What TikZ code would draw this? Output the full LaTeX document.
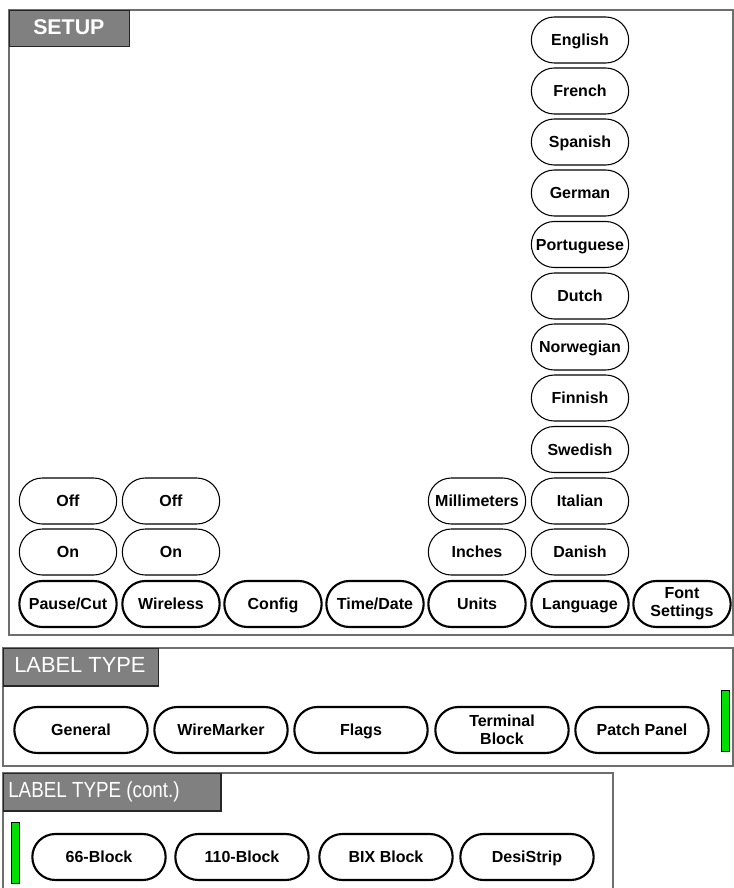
\documentclass[tikz,border=0pt]{standalone}
\usepackage{fontspec}
\setmainfont{Liberation Sans}
\usetikzlibrary{shapes.misc}
\definecolor{tabgray}{HTML}{808080}
\definecolor{framegray}{HTML}{6E6E6E}
\definecolor{barGreen}{HTML}{00E000}
\tikzset{
  btn/.style={rounded rectangle, draw=black, line width=0.8pt, fill=white,
    minimum width=75pt, minimum height=34.5pt, inner sep=1pt,
    text height=8.6pt, text depth=0pt,
    font=\fontsize{12}{12}\selectfont\bfseries, align=center},
  mainbtn/.style={btn, line width=1.6pt},
  twoline/.style={text height=, text depth=, font=\fontsize{12}{13.5}\selectfont\bfseries},
  ltbtn/.style={btn, line width=1.6pt, minimum width=102pt},
  tabbox/.style={draw=black!85, line width=0.9pt, fill=tabgray, inner sep=0pt, anchor=north west},
  tabtext/.style={text=white, inner sep=0pt, anchor=base west},
  panel/.style={draw=framegray, line width=1.2pt},
  greenbar/.style={draw=black, line width=0.6pt, fill=barGreen, minimum width=6pt, minimum height=46pt, inner sep=0pt}
}
\begin{document}
\begin{tikzpicture}[x=0.75pt,y=-0.75pt]
\useasboundingbox (0,0) rectangle (734,888);
\clip (0,0) rectangle (734,888);
% SETUP panel
\draw[panel] (9,10) rectangle (733,635);
\node[tabbox, minimum width=90pt, minimum height=27pt] (setuptab) at (9,10) {};
\node[tabtext, font=\fontsize{16}{16}\selectfont\bfseries] (setuptxt) at (33,35) {SETUP};
% bottom row
\node[mainbtn] (pause) at (68,604) {Pause/Cut};
\node[mainbtn] (wireless) at (171,604) {Wireless};
\node[mainbtn] (config) at (273,604) {Config};
\node[mainbtn] (timedate) at (375,604) {Time/Date};
\node[mainbtn] (units) at (477,604) {Units};
\node[mainbtn] (language) at (580,604) {Language};
\node[mainbtn, twoline] (font) at (682,604) {Font\\Settings};
% sub buttons
\node[btn] (pauseon) at (68,552) {On};
\node[btn] (pauseoff) at (68,501) {Off};
\node[btn] (wirelesson) at (171,552) {On};
\node[btn] (wirelessoff) at (171,501) {Off};
\node[btn] (inches) at (477,552) {Inches};
\node[btn] (mm) at (477,501) {Millimeters};
\node[btn] (danish) at (580,552) {Danish};
\node[btn] (italian) at (580,501) {Italian};
\node[btn] (swedish) at (580,449.5) {Swedish};
\node[btn] (finnish) at (580,398) {Finnish};
\node[btn] (norwegian) at (580,347) {Norwegian};
\node[btn] (dutch) at (580,296) {Dutch};
\node[btn] (portuguese) at (580,244.5) {Portuguese};
\node[btn] (german) at (580,193) {German};
\node[btn] (spanish) at (580,142) {Spanish};
\node[btn] (french) at (580,91) {French};
\node[btn] (english) at (580,40) {English};
% LABEL TYPE panel
\draw[panel] (3,648) rectangle (733,766);
\node[tabbox, minimum width=116pt, minimum height=28pt] (lttab) at (3,648) {};
\node[tabtext, font=\fontsize{16.4}{16}\selectfont] (lttxt) at (14,672) {LABEL TYPE};
\node[ltbtn] (general) at (81,730) {General};
\node[ltbtn] (wiremarker) at (221,730) {WireMarker};
\node[ltbtn] (flags) at (361,730) {Flags};
\node[ltbtn, twoline] (terminal) at (502,730) {Terminal\\Block};
\node[ltbtn] (patch) at (642,730) {Patch Panel};
\node[greenbar] (bar1) at (725,721) {};
% LABEL TYPE (cont.) panel
\draw[panel] (3,900) -- (3,773) -- (613,773) -- (613,900);
\node[tabbox, minimum width=163pt, minimum height=28pt] (lt2tab) at (3,773) {};
\node[tabtext, font=\fontsize{16.4}{16}\selectfont] (lt2txt) at (8,797) {\scalebox{0.86}[1]{LABEL TYPE (cont.)}};
\node[greenbar] (bar2) at (15,853) {};
\node[ltbtn] (b66) at (99,857) {66-Block};
\node[ltbtn] (b110) at (242,857) {110-Block};
\node[ltbtn] (bix) at (386,857) {BIX Block};
\node[ltbtn] (desi) at (527,857) {DesiStrip};
\end{tikzpicture}
\end{document}
